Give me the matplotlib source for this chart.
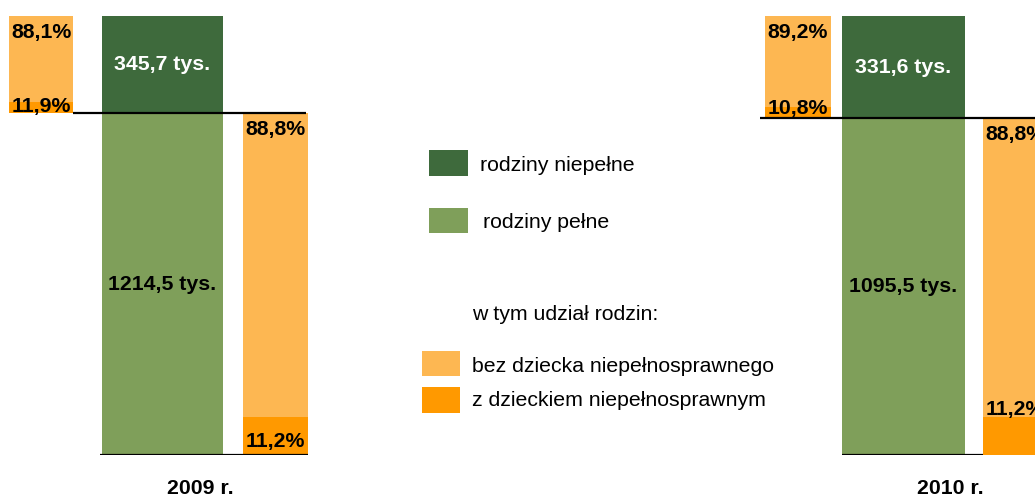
import matplotlib.pyplot as plt
from matplotlib.patches import Rectangle

plt.rcParams['font.family'] = ['Liberation Sans', 'DejaVu Sans']

# families (thousands)
years = ['2009 r.', '2010 r.']
full_families = [1214.5, 1095.5]
single_parent = [345.7, 331.6]
# share of families with / without a disabled child (%)
single_with_disabled = [11.9, 10.8]
single_without_disabled = [88.1, 89.2]
full_with_disabled = [11.2, 11.2]
full_without_disabled = [88.8, 88.8]

DARK_GREEN = '#3e6a3c'
LIGHT_GREEN = '#7f9f5a'
LIGHT_ORANGE = '#fdb752'
DARK_ORANGE = '#ff9900'

W, H, DPI = 1035, 497, 100
FS = 15.3

# horizontal layout in pixels: (left bar, centre bar, right bar) as (x0, width)
bar_x = [[(9, 64), (102, 121), (243, 65)],
         [(765, 66), (842, 123), (983, 65)]]
year_x = [200, 950]
# black rules: (x0, x1) at the split level and at the baseline
split_rule = [(73, 306), (760, 1035)]
base_rule = [(100, 308), (842, 983)]
# how far above the bar base the small share labels sit (pixels)
low_offset = [(7, 13), (10, 45)]


def fmt(v):
    return f'{v:.1f}'.replace('.', ',')


fig = plt.figure(figsize=(W / DPI, H / DPI), dpi=DPI)
ax = fig.add_axes([0, 42 / H, 1, 439 / H])
ax.set_xlim(0, W)
ax.set_ylim(0, 100)
ax.axis('off')

for i in range(len(years)):
    total = full_families[i] + single_parent[i]
    full_share = full_families[i] / total * 100
    single_share = single_parent[i] / total * 100
    (lx, lw), (cx, cw), (rx, rw) = bar_x[i]

    # centre bar: full families at the bottom, single-parent on top
    ax.bar(cx, full_share, width=cw, align='edge', color=LIGHT_GREEN, zorder=2)
    ax.bar(cx, single_share, width=cw, bottom=full_share, align='edge',
           color=DARK_GREEN, zorder=2)
    ax.text(cx + cw / 2, full_share / 2, fmt(full_families[i]) + ' tys.',
            ha='center', va='center', fontsize=FS, fontweight='bold', zorder=5)
    ax.text(cx + cw / 2, full_share + single_share / 2,
            fmt(single_parent[i]) + ' tys.', ha='center', va='center',
            fontsize=FS, fontweight='bold', color='white', zorder=5)

    # left bar: split of single-parent families
    low = single_share * single_with_disabled[i] / 100
    high = single_share * single_without_disabled[i] / 100
    ax.bar(lx, low, width=lw, bottom=full_share, align='edge',
           color=DARK_ORANGE, zorder=2)
    ax.bar(lx, high, width=lw, bottom=full_share + low, align='edge',
           color=LIGHT_ORANGE, zorder=2)

    # right bar: split of full families
    low_r = full_share * full_with_disabled[i] / 100
    high_r = full_share * full_without_disabled[i] / 100
    ax.bar(rx, low_r, width=rw, align='edge', color=DARK_ORANGE, zorder=2)
    ax.bar(rx, high_r, width=rw, bottom=low_r, align='edge',
           color=LIGHT_ORANGE, zorder=2)

    # percentage labels
    top_l = full_share + single_share
    ax.annotate(fmt(single_without_disabled[i]) + '%', (lx + lw / 2, top_l),
                xytext=(0, -12), textcoords='offset points', ha='center',
                va='center', fontsize=FS, fontweight='bold', zorder=5)
    ax.annotate(fmt(single_with_disabled[i]) + '%', (lx + lw / 2, full_share),
                xytext=(0, low_offset[i][0] * 0.72), textcoords='offset points',
                ha='center', va='center', fontsize=FS, fontweight='bold',
                zorder=5)
    ax.annotate(fmt(full_without_disabled[i]) + '%', (rx + rw / 2, full_share),
                xytext=(0, -12), textcoords='offset points', ha='center',
                va='center', fontsize=FS, fontweight='bold', zorder=5)
    ax.annotate(fmt(full_with_disabled[i]) + '%', (rx + rw / 2, 0),
                xytext=(0, low_offset[i][1] * 0.72), textcoords='offset points',
                ha='center', va='center', fontsize=FS, fontweight='bold',
                zorder=5)

    # rules
    ax.hlines(full_share, *split_rule[i], color='black', lw=1.6, zorder=4)
    ax.hlines(0, *base_rule[i], color='black', lw=1.6, zorder=4)

    fig.text(year_x[i] / W, 1 - 489 / H, years[i], ha='center', va='center',
             fontsize=FS, fontweight='bold')

# legend drawn by hand in pixel positions
legend_boxes = [(429, 150, 39, 26, DARK_GREEN), (429, 208, 39, 25, LIGHT_GREEN),
                (422, 351, 38, 25, LIGHT_ORANGE), (422, 387, 38, 26, DARK_ORANGE)]
for x, y, w, h, c in legend_boxes:
    fig.add_artist(Rectangle((x / W, 1 - (y + h) / H), w / W, h / H,
                             transform=fig.transFigure, color=c, lw=0))

legend_texts = [(480, 165, 'rodziny niepełne'), (483, 222, 'rodziny pełne'),
                (472, 314, 'w tym udział rodzin:'),
                (472, 366, 'bez dziecka niepełnosprawnego'),
                (472, 400, 'z dzieckiem niepełnosprawnym')]
for x, y, s in legend_texts:
    fig.text(x / W, 1 - y / H, s, ha='left', va='center', fontsize=FS)

fig.savefig('out.png', dpi=DPI)
